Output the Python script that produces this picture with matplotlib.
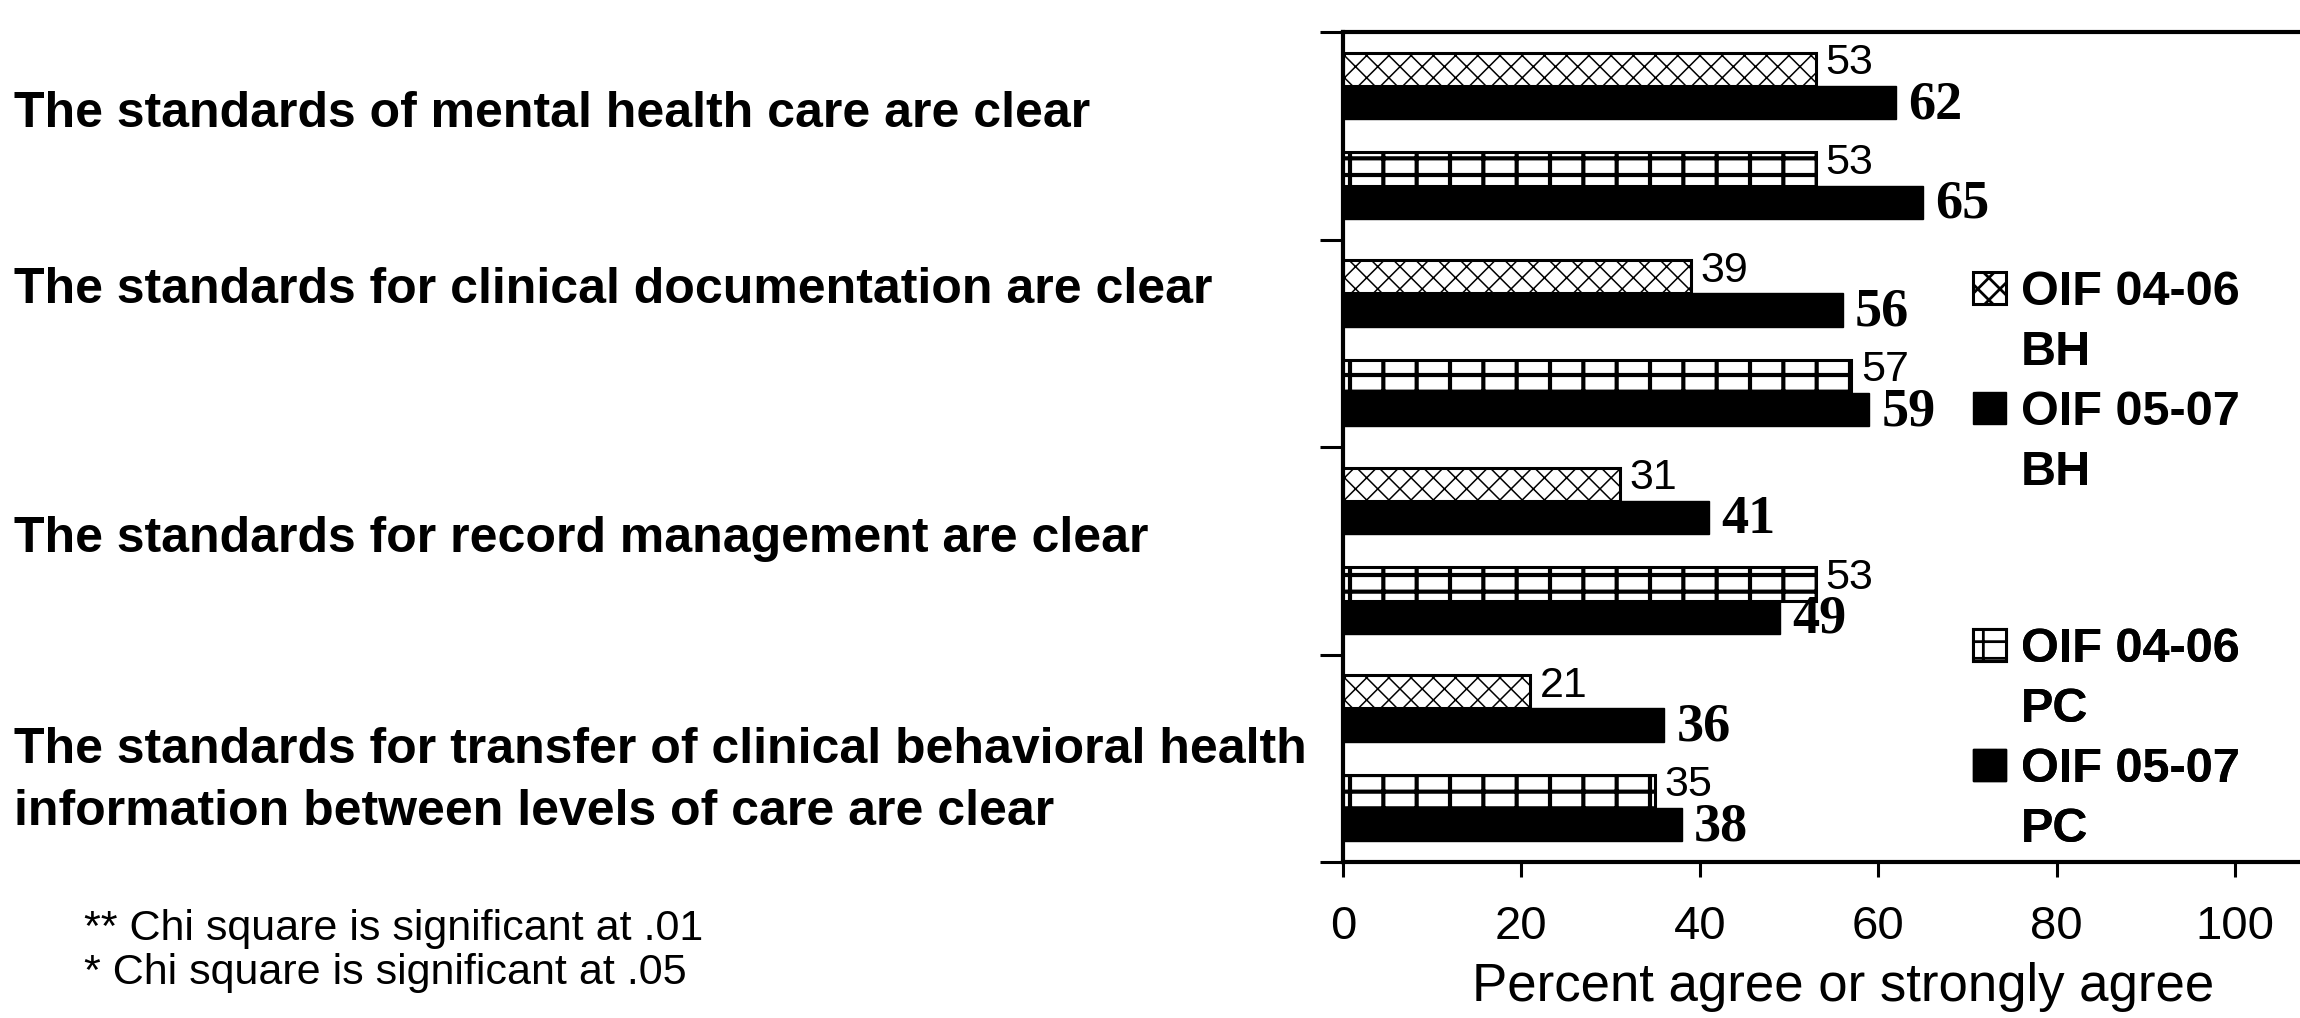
"""Survey bar chart: percent agree with clarity of standards, BH vs PC, two periods."""

import matplotlib

matplotlib.use("Agg")
import matplotlib.pyplot as plt
import numpy as np
from matplotlib.patches import Patch

# ---- data ---------------------------------------------------------------
categories = [
    "The standards of mental health care are clear",
    "The standards for clinical documentation are clear",
    "The standards for record management are clear",
    "The standards for transfer of clinical behavioral health\n"
    "information between levels of care are clear",
]
series_names = ["OIF 04-06\nBH", "OIF 05-07\nBH", "OIF 04-06\nPC", "OIF 05-07\nPC"]
bh_0406 = [53, 39, 31, 21]
bh_0507 = [62, 56, 41, 36]
pc_0406 = [53, 57, 53, 35]
pc_0507 = [65, 59, 49, 38]
x_ticks = [0, 20, 40, 60, 80, 100]
x_label = "Percent agree or strongly agree"
footnotes = ["** Chi square is significant at .01", "* Chi square is significant at .05"]

# ---- layout (pixels of a 2300 x 1018 canvas) ------------------------------
W, H = 2300, 1018
DPI = 200
SANS = ["Liberation Sans", "DejaVu Sans"]
SERIF = ["Liberation Serif", "DejaVu Serif"]
plt.rcParams["font.family"] = SANS

label_y_px = [114, 290, 539, 781]
footnote_y_px = [929, 973]

fig = plt.figure(figsize=(W / DPI, H / DPI), dpi=DPI)
ax = fig.add_axes([1343 / W, (H - 862) / H, (W - 1343) / W, 830 / H])

y = np.arange(len(categories))
bar_h = 0.16
offsets = [-2 * bar_h, -bar_h, bar_h, 2 * bar_h]
series = [bh_0406, bh_0507, pc_0406, pc_0507]
styles = [
    dict(facecolor="white", edgecolor="black", hatch="xxx", linewidth=1.1, hatch_lw=0.55),
    dict(facecolor="black", edgecolor="black", hatch=None, linewidth=0.5, hatch_lw=None),
    dict(facecolor="white", edgecolor="black", hatch="--|", linewidth=1.1, hatch_lw=1.5),
    dict(facecolor="black", edgecolor="black", hatch=None, linewidth=0.5, hatch_lw=None),
]

containers = []
for vals, off, st in zip(series, offsets, styles):
    bars = ax.barh(
        y + off,
        vals,
        height=bar_h,
        color=st["facecolor"],
        edgecolor=st["edgecolor"],
        hatch=st["hatch"],
        linewidth=st["linewidth"],
    )
    if st["hatch_lw"] is not None:
        for b in bars:
            if hasattr(b, "set_hatch_linewidth"):
                b.set_hatch_linewidth(st["hatch_lw"])
    containers.append(bars)
    dark = st["facecolor"] == "black"
    for yy, v in zip(y + off, vals):
        ax.annotate(
            f"{v}",
            (v, yy),
            xytext=(4.4, -1.0) if dark else (3.4, 2.2),
            textcoords="offset points",
            ha="left",
            va="center",
            fontsize=19.5 if dark else 15.5,
            fontweight="bold" if dark else "normal",
            family=SERIF if dark else SANS,
        )

ax.set_xlim(0, (W - 1343) / ((2235 - 1343) / 100))
ax.set_ylim(len(categories) - 0.5, -0.5)
ax.set_xticks(x_ticks)
ax.set_yticks(np.arange(len(categories) + 1) - 0.5)
ax.set_yticklabels([])
ax.tick_params(axis="y", direction="out", length=8.3, width=1.1)
ax.tick_params(axis="x", direction="out", length=5.4, width=1.1, pad=10, labelsize=17)
for side in ("left", "top", "bottom"):
    ax.spines[side].set_linewidth(1.5)
ax.spines["right"].set_visible(False)

ax.set_xlabel(x_label, fontsize=19)
ax.xaxis.set_label_coords((1843 - 1343) / (W - 1343), (862 - 987) / 830)
ax.xaxis.label.set_va("center")

# legends: two groups, first line next to the swatch
blank = Patch(facecolor="none", edgecolor="none")
leg_prop = {"family": SANS, "weight": "bold", "size": 17.5}
for k, top_px in zip((0, 2), (270, 627)):
    handles, labels = [], []
    for j in (k, k + 1):
        first, second = series_names[j].split("\n")
        handles += [containers[j], blank]
        labels += [first, second]
    leg = ax.legend(
        handles,
        labels,
        loc="upper left",
        bbox_to_anchor=(1973 / W, 1 - top_px / H),
        bbox_transform=fig.transFigure,
        frameon=False,
        prop=leg_prop,
        handlelength=0.68,
        handleheight=0.62,
        handletextpad=0.31,
        labelspacing=0.31,
        borderpad=0,
        borderaxespad=0,
    )
    ax.add_artist(leg)

for text, ypx in zip(categories, label_y_px):
    fig.text(14 / W, 1 - ypx / H, text, ha="left", va="center",
             fontsize=18, fontweight="bold", linespacing=1.45)

for text, ypx in zip(footnotes, footnote_y_px):
    fig.text(84 / W, 1 - ypx / H, text, ha="left", va="center", fontsize=15.5)

fig.savefig("out.png", dpi=DPI)
plt.close(fig)
